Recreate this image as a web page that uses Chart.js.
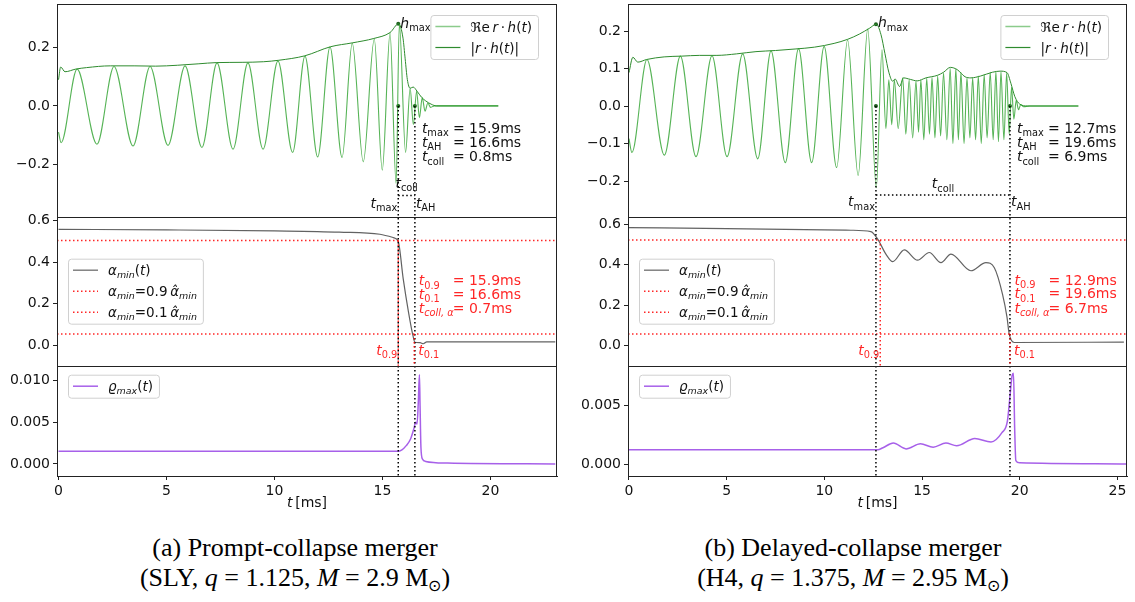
<!DOCTYPE html>
<html>
<head>
<meta charset="utf-8">
<script src="https://cdn.jsdelivr.net/npm/chart.js@4.4.0/dist/chart.umd.min.js"></script>
<style>
  body { margin: 0; background: #fff; width: 1135px; height: 602px; position: relative; overflow: hidden; }
  .panel { position: absolute; top: 0; }
  .cap { position: absolute; width: 600px; text-align: center; font-family: "Liberation Serif", serif; font-size: 26px; line-height: 30px; color: #000; }
  .cap sub { font-size: 0.62em; vertical-align: baseline; position: relative; top: 0.3em; }
</style>
</head>
<body>
<div class="panel" style="left:0"><canvas id="chartA" width="565" height="520"></canvas></div>
<div class="panel" style="left:570px"><canvas id="chartB" width="565" height="520"></canvas></div>
<div class="cap" style="left:-5px;top:533px">(a) Prompt-collapse merger<br>(SLY, <i>q</i> = 1.125, <i>M</i> = 2.9 M<sub>⊙</sub>)</div>
<div class="cap" style="left:553px;top:533px">(b) Delayed-collapse merger<br>(H4, <i>q</i> = 1.375, <i>M</i> = 2.95 M<sub>⊙</sub>)</div>
<script>
// ---- tick labels ----
const tickXA = [0, 5, 10, 15, 20];
const tickXB = [0, 5, 10, 15, 20, 25];
const tickTopA = [-0.2, 0, 0.2];
const tickTopB = [-0.2, -0.1, 0, 0.1, 0.2];
const tickMid = [0, 0.2, 0.4, 0.6];
const tickBotA = [0, 0.005, 0.010];
const tickBotB = [0, 0.005];

// ---- (a) prompt collapse ----
const timesReA = [0.0, 0.12, 0.86, 1.78, 2.57, 3.45, 4.24, 5.07, 5.86, 6.64, 7.34, 8.08, 8.77, 9.47, 10.16, 10.84, 11.41, 12.0, 12.57, 13.13, 13.6, 14.11, 14.62, 14.99, 15.35, 15.63, 15.78, 16.07, 16.28, 16.43, 16.58, 16.71, 16.84, 16.97, 17.1, 17.23, 17.4, 20.36];
const valsReA = [-0.089, -0.125, 0.125, -0.130, 0.134, -0.136, 0.134, -0.134, 0.136, -0.141, 0.146, -0.147, 0.146, -0.147, 0.153, -0.158, 0.169, -0.173, 0.2, -0.175, 0.213, -0.19, 0.227, -0.218, 0.247, -0.263, 0.278, -0.158, 0.06, -0.063, 0.05, -0.04, 0.028, -0.018, 0.01, -0.005, 0, 0];
const timesAbsA = [0.0, 0.1, 0.3, 0.8, 1.3, 2.4, 3.5, 4.5, 5.5, 6.5, 7.3, 8.5, 9.5, 10.2, 11.4, 12.6, 13.6, 14.6, 15.35, 15.75, 15.95, 16.05, 16.15, 16.28, 16.42, 16.6, 16.8, 17.0, 17.25, 17.5, 20.36];
const valsAbsA = [0.089, 0.132, 0.116, 0.125, 0.13, 0.136, 0.136, 0.135, 0.138, 0.143, 0.147, 0.148, 0.15, 0.155, 0.17, 0.201, 0.214, 0.229, 0.249, 0.279, 0.23, 0.16, 0.09, 0.06, 0.064, 0.05, 0.03, 0.017, 0.006, 0.0, 0.0];
const timesAlphaA = [0, 5, 10, 13, 14.88, 15.5, 15.73, 15.96, 16.2, 16.4, 16.5, 16.74, 16.89, 17.05, 18, 23.0];
const valsAlphaA = [0.559, 0.556, 0.551, 0.545, 0.535, 0.519, 0.5, 0.32, 0.162, 0.051, 0.014, 0.012, 0.007, 0.016, 0.016, 0.016];
const timesRhoA = [0, 15.7, 15.9, 16.1, 16.3, 16.45, 16.54, 16.6, 16.66, 16.71, 16.74, 16.78, 16.85, 17.0, 18.0, 23.0];
const valsRhoA = [0.00153, 0.00153, 0.0017, 0.0022, 0.003, 0.0042, 0.005, 0.0048, 0.0075, 0.0107, 0.007, 0.002, 0.0006, 0.0003, 0.0001, 0.0];
const alphaLevelsA = [0.505, 0.054];
const markTimesA = [15.73, 15.73, 16.5];
const markValsA = [0.279, 0, 0];
const eventTimesA = [15.73, 16.5, 15.73, 16.47]; // t_max, t_AH, t_0.9, t_0.1 (line positions)

// ---- (b) delayed collapse ----
const timesReB = [0.0, 0.15, 0.92, 1.81, 2.63, 3.43, 4.25, 5.02, 5.82, 6.59, 7.27, 8.0, 8.68, 9.35, 9.99, 10.63, 11.19, 11.73, 12.22, 12.66, 12.95, 13.15, 13.3, 13.45, 13.58, 13.78, 14.01, 14.17, 14.34, 14.52, 14.69, 14.82, 14.94, 15.09, 15.24, 15.38, 15.51, 15.66, 15.8, 15.95, 16.1, 16.27, 16.44, 16.58, 16.73, 16.86, 16.99, 17.15, 17.3, 17.45, 17.59, 17.74, 17.88, 18.03, 18.18, 18.33, 18.49, 18.64, 18.78, 18.91, 19.04, 19.19, 19.33, 19.46, 19.58, 19.7, 19.82, 19.94, 20.05, 20.2, 20.5, 23.0];
const valsReB = [-0.087, -0.124, 0.124, -0.131, 0.133, -0.135, 0.134, -0.135, 0.139, -0.141, 0.147, -0.151, 0.153, -0.151, 0.159, -0.164, 0.176, -0.185, 0.205, -0.218, 0.15, -0.06, 0.07, -0.05, 0.07, -0.06, 0.075, -0.075, 0.07, -0.085, 0.066, -0.07, 0.07, -0.09, 0.074, -0.075, 0.076, -0.085, 0.08, -0.08, 0.088, -0.09, 0.1, -0.1, 0.1, -0.09, 0.09, -0.1, 0.075, -0.085, 0.075, -0.09, 0.08, -0.1, 0.084, -0.085, 0.09, -0.09, 0.092, -0.095, 0.092, -0.09, 0.088, -0.075, 0.05, -0.035, 0.015, -0.01, 0.004, -0.002, 0, 0];
const timesAbsB = [0.0, 0.2, 0.45, 0.9, 1.8, 2.7, 3.6, 4.5, 5.5, 6.5, 7.5, 8.5, 9.5, 10.5, 11.2, 11.8, 12.3, 12.66, 12.9, 13.1, 13.3, 13.5, 13.62, 13.85, 14.05, 14.4, 14.75, 15.2, 15.8, 16.1, 16.45, 16.8, 17.2, 17.5, 18.0, 18.6, 19.0, 19.35, 19.55, 19.75, 20.0, 20.4, 23.0];
const valsAbsB = [0.089, 0.13, 0.117, 0.124, 0.131, 0.133, 0.135, 0.135, 0.139, 0.145, 0.148, 0.152, 0.157, 0.167, 0.178, 0.192, 0.207, 0.218, 0.19, 0.14, 0.09, 0.066, 0.072, 0.052, 0.075, 0.071, 0.067, 0.075, 0.082, 0.09, 0.103, 0.097, 0.078, 0.075, 0.08, 0.09, 0.093, 0.089, 0.06, 0.025, 0.005, 0.0, 0.0];
const timesAlphaB = [0, 5, 10, 11.36, 12.38, 12.73, 13.15, 13.5, 14.09, 14.77, 15.37, 15.97, 16.48, 17.5, 18.27, 18.7, 19.12, 19.35, 19.46, 19.72, 25.33];
const valsAlphaB = [0.583, 0.578, 0.572, 0.57, 0.563, 0.526, 0.452, 0.415, 0.473, 0.422, 0.46, 0.41, 0.452, 0.37, 0.41, 0.385, 0.254, 0.14, 0.058, 0.016, 0.018];
const timesRhoB = [0, 12.73, 13.0, 13.53, 14.18, 14.92, 15.57, 16.22, 16.77, 17.7, 18.53, 19.09, 19.37, 19.51, 19.61, 19.68, 19.74, 19.8, 20.0, 25.5];
const valsRhoB = [0.00122, 0.00122, 0.0014, 0.0018, 0.0013, 0.00174, 0.00145, 0.0018, 0.00157, 0.0022, 0.0019, 0.0027, 0.0037, 0.006, 0.0076, 0.0078, 0.0031, 0.0003, 0.0001, 0.0];
const alphaLevelsB = [0.522, 0.0576];
const markTimesB = [12.64, 12.64, 19.5];
const markValsB = [0.218, 0, 0];
const eventTimesB = [12.64, 19.5, 12.86, 19.5];

// ---- styling ----
const FONT = '"DejaVu Sans", sans-serif';
const RED = 'rgba(255,0,0,0.85)';
const GREEN_RE = 'rgba(44,160,44,0.8)';
const GREEN_ABS = '#2e8b2e';
const GREY = 'rgba(70,70,70,0.85)';
const PURPLE = 'rgba(138,43,226,0.75)';
const THIN = '\u2009';

function fontFor(st, size) {
    const small = st === 's' || st === 'si';
    const ital = st === 'i' || st === 'si';
    return (ital ? 'italic ' : '') + (small ? size * 0.7 : size) + 'px ' + FONT;
}
function richWidth(ctx, parts, size) {
    let w = 0;
    parts.forEach(([txt, st]) => { ctx.font = fontFor(st, size); w += ctx.measureText(txt).width; });
    return w;
}
// parts: [text, style]; style n = normal, i = italic, s = subscript, si = italic subscript
function drawRich(ctx, parts, x, y, size, color, align) {
    const w = richWidth(ctx, parts, size);
    let cx = align === 'right' ? x - w : align === 'center' ? x - w / 2 : x;
    ctx.fillStyle = color;
    ctx.textAlign = 'left';
    ctx.textBaseline = 'alphabetic';
    parts.forEach(([txt, st]) => {
        ctx.font = fontFor(st, size);
        const dy = (st === 's' || st === 'si') ? size * 0.24 : 0;
        ctx.fillText(txt, cx, y + dy);
        cx += ctx.measureText(txt).width;
    });
}
function seg(ctx, x1, y1, x2, y2) {
    ctx.beginPath(); ctx.moveTo(x1, y1); ctx.lineTo(x2, y2); ctx.stroke();
}
function drawLegend(ctx, items, x, y, alignRight) {
    const size = 13.5, pad = 5, lineLen = 25, gap = 10, rowH = 21;
    let tw = 0;
    items.forEach(it => { tw = Math.max(tw, richWidth(ctx, it.label, size)); });
    const w = pad + lineLen + gap + tw + pad + 1;
    const h = rowH * items.length + 2;
    const bx = alignRight ? x - w : x;
    ctx.save();
    ctx.setLineDash([]);
    ctx.fillStyle = 'rgba(255,255,255,0.8)';
    ctx.strokeStyle = '#d0d0d0';
    ctx.lineWidth = 1;
    ctx.beginPath();
    ctx.roundRect(bx + 0.5, y + 0.5, w, h, 3);
    ctx.fill(); ctx.stroke();
    items.forEach((it, i) => {
        const cy = y + 11.5 + i * rowH;
        ctx.strokeStyle = it.color;
        ctx.lineWidth = it.width;
        ctx.setLineDash(it.dash || []);
        seg(ctx, bx + pad, cy, bx + pad + lineLen, cy);
        drawRich(ctx, it.label, bx + pad + lineLen + gap, cy + 5, size, '#111', 'left');
    });
    ctx.restore();
}

const annotate = {
    id: 'annotate',
    afterDraw(chart, args, o) {
        const a = o.ann, ctx = chart.ctx, ca = chart.chartArea;
        const X = chart.scales.x, T = chart.scales.yTop, M = chart.scales.yMid, B = chart.scales.yBot;
        const [tMax, tAH, t09, t01] = a.events;
        const xm = X.getPixelForValue(tMax), xa = X.getPixelForValue(tAH);
        const x9 = X.getPixelForValue(t09), x1 = X.getPixelForValue(t01);
        ctx.save();

        // dotted event lines
        ctx.setLineDash([1.5, 2.5]);
        ctx.lineWidth = 1.5;
        ctx.strokeStyle = '#000';
        seg(ctx, xm, T.getPixelForValue(0), xm, ca.bottom);
        seg(ctx, xa, T.getPixelForValue(0), xa, ca.bottom);
        seg(ctx, xm, T.getPixelForValue(a.collY), xa, T.getPixelForValue(a.collY));
        ctx.strokeStyle = RED;
        seg(ctx, x9, M.getPixelForValue(a.levels[0]), x9, M.bottom);
        seg(ctx, x1, M.getPixelForValue(a.levels[1]), x1, M.bottom);
        ctx.setLineDash([]);

        // subplot frames
        ctx.strokeStyle = '#222';
        ctx.lineWidth = 1;
        [T, M, B].forEach(s => {
            ctx.strokeRect(Math.round(ca.left) + 0.5, Math.round(s.top) + 0.5,
                Math.round(ca.right) - Math.round(ca.left) - 1, Math.round(s.bottom) - Math.round(s.top));
        });

        // top subplot texts
        const S = 14;
        drawRich(ctx, [['h', 'i'], ['max', 's']], xm + 2, T.getPixelForValue(a.hLabY), S, '#111', 'left');
        drawRich(ctx, [['t', 'i'], ['coll', 's']], (xm + xa) / 2, T.getPixelForValue(a.collLabY), S, '#111', 'center');
        drawRich(ctx, [['t', 'i'], ['max', 's']], xm - 1, T.getPixelForValue(a.labY), S, '#111', 'right');
        drawRich(ctx, [['t', 'i'], ['AH', 's']], xa + 1, T.getPixelForValue(a.labY), S, '#111', 'left');
        a.info.forEach((ln, i) => {
            const y = T.getPixelForValue(a.infoY[i]);
            drawRich(ctx, ln[0], xa + 7, y, S, '#111', 'left');
            drawRich(ctx, [[ln[1], 'n']], xa + 7 + 31, y, S, '#111', 'left');
        });

        // middle subplot texts
        a.redInfo.forEach((ln, i) => {
            const y = M.getPixelForValue(a.redY[i]);
            drawRich(ctx, ln[0], x1 + 4.5, y, S, RED, 'left');
            drawRich(ctx, [[ln[1], 'n']], x1 + 4.5 + 34, y, S, RED, 'left');
        });
        drawRich(ctx, [['t', 'i'], ['0.9', 's']], x9 - 1, M.getPixelForValue(a.tLabY), S, RED, 'right');
        drawRich(ctx, [['t', 'i'], ['0.1', 's']], x1 + 4, M.getPixelForValue(a.tLabY), S, RED, 'left');

        // legends
        drawLegend(ctx, [
            {label: [['ℜe' + THIN, 'n'], ['r', 'i'], [THIN + '·' + THIN, 'n'], ['h', 'i'], ['(', 'n'], ['t', 'i'], [')', 'n']], color: 'rgba(44,160,44,0.55)', width: 1.5},
            {label: [['|', 'n'], ['r', 'i'], [THIN + '·' + THIN, 'n'], ['h', 'i'], ['(', 'n'], ['t', 'i'], [')|', 'n']], color: GREEN_ABS, width: 1.2}
        ], ca.right - 19, T.top + 11, true);
        const midItems = [
            {label: [['α', 'i'], ['min', 'si'], ['(', 'n'], ['t', 'i'], [')', 'n']], color: GREY, width: 1.2},
            {label: [['α', 'i'], ['min', 'si'], ['=0.9' + THIN, 'n'], ['α̂', 'i'], ['min', 'si']], color: RED, width: 1.5, dash: [1.5, 2.5]},
            {label: [['α', 'i'], ['min', 'si'], ['=0.1' + THIN, 'n'], ['α̂', 'i'], ['min', 'si']], color: RED, width: 1.5, dash: [1.5, 2.5]}
        ];
        drawLegend(ctx, midItems, ca.left + 11, (M.top + M.bottom) / 2 - 32.5, false);
        drawLegend(ctx, [
            {label: [['ϱ', 'i'], ['max', 'si'], ['(', 'n'], ['t', 'i'], [')', 'n']], color: PURPLE, width: 1.5}
        ], ca.left + 11, B.top + 9, false);

        // x axis title
        drawRich(ctx, [['t', 'i'], [THIN + '[ms]', 'n']], (ca.left + ca.right) / 2, ca.bottom + 31, S, '#111', 'center');
        ctx.restore();
    }
};

function fmt(dec) {
    return v => (v < 0 ? '\u2212' : '') + Math.abs(v).toFixed(dec);
}
function yAxis(ticks, dec, min, max, weight, width) {
    return {
        type: 'linear', position: 'left', stack: 'col', stackWeight: weight,
        min: min, max: max,
        afterBuildTicks: s => { s.ticks = ticks.map(v => ({value: v})); },
        afterFit: s => { s.width = width; s.paddingTop = 0; s.paddingBottom = 0; },
        ticks: {callback: fmt(dec), autoSkip: false, padding: 3, color: '#111', font: {family: FONT, size: 14}},
        grid: {drawOnChartArea: false, tickLength: 4, color: '#222'},
        border: {color: '#222'}
    };
}
function pts(xs, ys) {
    return xs.map((x, i) => ({x: x, y: ys[i]}));
}
function line(data, axis, color, width, extra) {
    return Object.assign({data: data, yAxisID: axis, borderColor: color, borderWidth: width,
        pointRadius: 0, fill: false, cubicInterpolationMode: 'monotone'}, extra || {});
}

function buildPanel(id, d) {
    const lvl = (v) => [{x: d.xMin, y: v}, {x: d.xMax, y: v}];
    new Chart(document.getElementById(id), {
        type: 'line',
        data: {
            datasets: [
                line(pts(d.timesRe, d.valsRe), 'yTop', GREEN_RE, 1.1),
                line(pts(d.timesAbs, d.valsAbs), 'yTop', GREEN_ABS, 1),
                line(pts(d.markTimes, d.markVals), 'yTop', '#1d5e1d', 0, {showLine: false, pointRadius: 2, pointBackgroundColor: '#1d5e1d', pointBorderWidth: 0}),
                line(lvl(d.levels[0]), 'yMid', RED, 1.5, {borderDash: [1.5, 2.5]}),
                line(lvl(d.levels[1]), 'yMid', RED, 1.5, {borderDash: [1.5, 2.5]}),
                line(pts(d.timesAlpha, d.valsAlpha), 'yMid', GREY, 1.2),
                line(pts(d.timesRho, d.valsRho), 'yBot', PURPLE, 1.5)
            ]
        },
        options: {
            responsive: false,
            animation: false,
            events: [],
            layout: {padding: {top: 1, right: 8, left: 0, bottom: 0}},
            scales: {
                x: {
                    type: 'linear', min: d.xMin, max: d.xMax,
                    afterBuildTicks: s => { s.ticks = d.xTicks.map(v => ({value: v})); },
                    afterFit: s => { s.height = 44; s.paddingLeft = 0; s.paddingRight = 0; },
                    ticks: {autoSkip: false, maxRotation: 0, padding: 3, color: '#111', font: {family: FONT, size: 14}},
                    grid: {drawOnChartArea: false, tickLength: 4, color: '#222'},
                    border: {color: '#222'}
                },
                yBot: yAxis(d.botTicks, 3, d.botRange[0], d.botRange[1], 111, d.axisW),
                yMid: yAxis(tickMid, 1, d.midRange[0], d.midRange[1], 150, d.axisW),
                yTop: yAxis(d.topTicks, 1, d.topRange[0], d.topRange[1], 214, d.axisW)
            },
            plugins: {
                legend: {display: false},
                tooltip: {enabled: false},
                annotate: {ann: d.ann}
            }
        },
        plugins: [annotate]
    });
}

buildPanel('chartA', {
    timesRe: timesReA, valsRe: valsReA, timesAbs: timesAbsA, valsAbs: valsAbsA,
    timesAlpha: timesAlphaA, valsAlpha: valsAlphaA, timesRho: timesRhoA, valsRho: valsRhoA,
    markTimes: markTimesA, markVals: markValsA, levels: alphaLevelsA,
    xMin: -0.07, xMax: 23.08, xTicks: tickXA, axisW: 57,
    topTicks: tickTopA, topRange: [-0.376, 0.346],
    midRange: [-0.099, 0.62],
    botTicks: tickBotA, botRange: [-0.00145, 0.0118],
    ann: {
        events: eventTimesA, levels: alphaLevelsA,
        hLabY: 0.265, collLabY: -0.279, collY: -0.304, labY: -0.346,
        infoY: [-0.092, -0.139, -0.188],
        info: [
            [[['t', 'i'], ['max', 's']], '= 15.9ms'],
            [[['t', 'i'], ['AH', 's']], '= 16.6ms'],
            [[['t', 'i'], ['coll', 's']], '= 0.8ms']
        ],
        redY: [0.289, 0.225, 0.155],
        redInfo: [
            [[['t', 'i'], ['0.9', 's']], '= 15.9ms'],
            [[['t', 'i'], ['0.1', 's']], '= 16.6ms'],
            [[['t', 'i'], ['coll, α', 'si']], '= 0.7ms']
        ],
        tLabY: -0.047
    }
});

buildPanel('chartB', {
    timesRe: timesReB, valsRe: valsReB, timesAbs: timesAbsB, valsAbs: valsAbsB,
    timesAlpha: timesAlphaB, valsAlpha: valsAlphaB, timesRho: timesRhoB, valsRho: valsRhoB,
    markTimes: markTimesB, markVals: markValsB, levels: alphaLevelsB,
    xMin: -0.05, xMax: 25.49, xTicks: tickXB, axisW: 58,
    topTicks: tickTopB, topRange: [-0.295, 0.272],
    midRange: [-0.0985, 0.637],
    botTicks: tickBotB, botRange: [-0.00103, 0.00845],
    ann: {
        events: eventTimesB, levels: alphaLevelsB,
        hLabY: 0.21, collLabY: -0.219, collY: -0.2375, labY: -0.267,
        infoY: [-0.072, -0.109, -0.147],
        info: [
            [[['t', 'i'], ['max', 's']], '= 12.7ms'],
            [[['t', 'i'], ['AH', 's']], '= 19.6ms'],
            [[['t', 'i'], ['coll', 's']], '= 6.9ms']
        ],
        redY: [0.3, 0.234, 0.163],
        redInfo: [
            [[['t', 'i'], ['0.9', 's']], '= 12.9ms'],
            [[['t', 'i'], ['0.1', 's']], '= 19.6ms'],
            [[['t', 'i'], ['coll, α', 'si']], '= 6.7ms']
        ],
        tLabY: -0.044
    }
});
</script>
</body>
</html>
